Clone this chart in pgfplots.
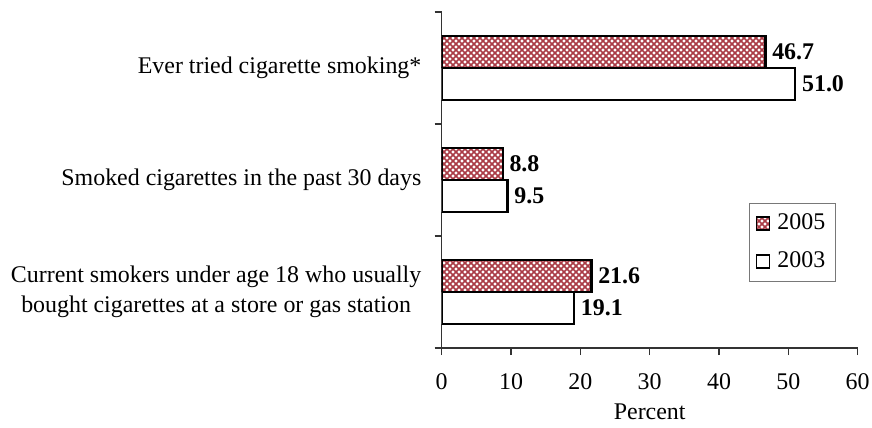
\documentclass[border=0pt]{standalone}
\usepackage{fontspec}
\setmainfont{Liberation Serif}
\usepackage{pgfplots}
\pgfplotsset{compat=1.18}
\usetikzlibrary{patterns}
\definecolor{hatch}{RGB}{170,60,70}
\definecolor{legdraw}{RGB}{120,120,120}
\pgfdeclarepatternformonly{densecross}{\pgfpoint{-0.5bp}{-0.5bp}}{\pgfpoint{3.5bp}{3.5bp}}{\pgfpoint{3bp}{3bp}}{%
  \pgfsetlinewidth{0.85bp}%
  \pgfpathmoveto{\pgfpoint{0bp}{0bp}}\pgfpathlineto{\pgfpoint{3bp}{3bp}}%
  \pgfpathmoveto{\pgfpoint{0bp}{3bp}}\pgfpathlineto{\pgfpoint{3bp}{0bp}}%
  \pgfusepath{stroke}}
\newcommand{\myfont}{\fontsize{12}{14.5}\selectfont}
\begin{document}
\myfont
\begin{tikzpicture}
\begin{axis}[
  name=ax,
  scale only axis,
  width=208bp, height=168bp,
  xmin=0, xmax=60, ymin=-0.5, ymax=2.5,
  axis x line*=bottom, axis y line*=left,
  axis line style={line width=0.6bp, black!80},
  xbar, bar width=16bp,
  xtick={0,10,...,60},
  ytick={-0.5,0.5,1.5,2.5},
  yticklabels={,,,},
  tick align=outside,
  major tick length=3.5bp,
  tick style={line width=0.6bp, black!80},
  extra y ticks={0,1,2},
  extra y tick labels={{Current smokers under age 18 who usually\\bought cigarettes at a store or gas station},{Smoked cigarettes in the past 30 days},{Ever tried cigarette smoking*}},
  extra y tick style={major tick length=0pt, tick style={draw=none}},
  yticklabel style={align=center, font=\fontsize{12}{15}\selectfont, xshift=-6bp},
  xticklabel style={font=\myfont, yshift=-5bp, /pgf/number format/assume math mode=true},
  xlabel={Percent},
  xlabel style={font=\myfont, yshift=1bp},
  nodes near coords,
  nodes near coords style={font=\bfseries\myfont, anchor=west, inner sep=2.8bp,
    /pgf/number format/.cd, fixed, fixed zerofill, precision=1, assume math mode=true},
  legend cell align=left,
  legend style={at={(rel axis cs:0.739,0.4315)}, anchor=north west, draw=legdraw, line width=0.5bp,
    font=\myfont, inner xsep=3bp, inner ysep=3bp, row sep=5.5bp,
    /tikz/every odd column/.append style={column sep=1.5bp}},
  legend image code/.code={\draw[#1, line width=0.9bp] (0bp,-3.25bp) rectangle (6.5bp,3.25bp);},
]
\addplot[draw=black, line width=1.2bp, pattern=densecross, pattern color=hatch, bar shift=8bp]
  coordinates {(46.7,2) (8.8,1) (21.6,0)};
\addlegendentry{2005}
\addplot[draw=black, line width=1.2bp, fill=white, bar shift=-8bp]
  coordinates {(51.0,2) (9.5,1) (19.1,0)};
\addlegendentry{2003}
\end{axis}
\pgfresetboundingbox
\path[use as bounding box] ([xshift=-220.85bp,yshift=-40bp]ax.south west) rectangle ++(436bp,214bp);
\end{tikzpicture}
\end{document}
